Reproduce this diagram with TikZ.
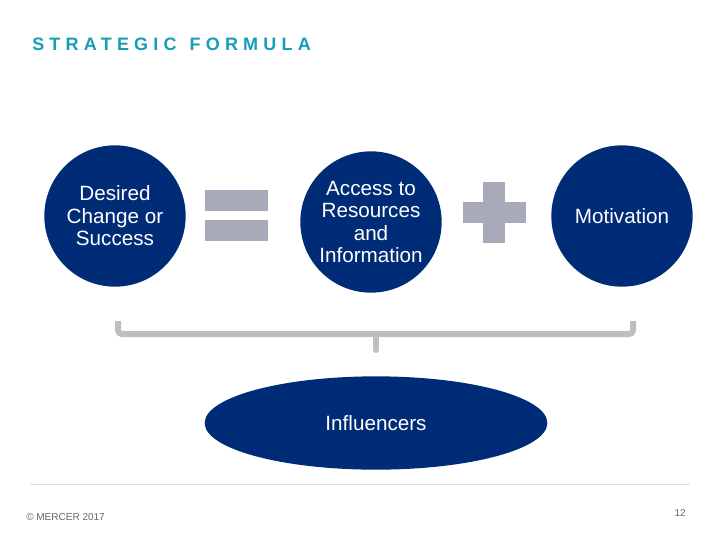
\documentclass[tikz,border=0pt]{standalone}
\usepackage{fontspec}
\setmainfont{Liberation Sans}
\usepackage{xcolor}
\usetikzlibrary{shapes.geometric}

\definecolor{mercernavy}{RGB}{0,44,119}
\definecolor{mercerteal}{RGB}{20,158,184}
\definecolor{signgray}{RGB}{168,170,186}
\definecolor{bracegray}{RGB}{190,190,190}
\definecolor{rulegray}{RGB}{205,226,230}

\tikzset{
  term/.style={circle,fill=mercernavy,text=white,inner sep=0pt,
    minimum size=106pt,align=center,font=\fontsize{15.5}{16.8}\selectfont},
  sign/.style={fill=signgray},
}

\begin{document}
\begin{tikzpicture}[x=0.75pt,y=-0.75pt]
    \useasboundingbox (0,0) rectangle (720,540);

    % Title
    \node[anchor=west,text=mercerteal,inner sep=0pt,
      font=\fontsize{13.5}{14}\selectfont\bfseries\addfontfeature{LetterSpace=29}]
      (title) at (32,44) {STRATEGIC\hspace{2pt} FORMULA};

    % Terms of the formula
    \node[term] (desired) at (115,216) {Desired\\Change or\\Success};
    \node[term] (access) at (371,222) {Access to\\Resources\\and\\Information};
    \node[term] (motivation) at (622,216) {Motivation};

    % Equals sign
    \fill[sign] (205,190) rectangle (268,211);
    \fill[sign] (205,220) rectangle (268,241);

    % Plus sign
    \fill[sign] (483,182) rectangle (505,243);
    \fill[sign] (463,202) rectangle (526,223);

    % Bracket
    \coordinate (bl) at (118,321);
    \coordinate (br) at (633,321);
    \coordinate (tick) at (376,350);
    \draw[bracegray,line width=4.5pt,rounded corners=3pt]
      (bl) -- (118,334) -- (633,334) -- (br);
    \draw[bracegray,line width=4.5pt,line cap=round,rounded corners=3pt]
      (376,334) -- (tick);

    % Influencers
    \node[ellipse,fill=mercernavy,text=white,inner sep=0pt,
      minimum width=257pt,minimum height=70pt,
      font=\fontsize{15.5}{16.8}\selectfont] (influencers) at (376,423) {Influencers};

    % Footer
    \draw[rulegray,line width=0.75pt] (30,484) -- (690,484);
    \node[anchor=west,text=black!60,inner sep=0pt,font=\fontsize{7.5}{8}\selectfont]
      (copyright) at (26,517) {\textcopyright{} MERCER 2017};
    \node[anchor=east,text=black!60,inner sep=0pt,font=\fontsize{7.5}{8}\selectfont]
      (page) at (686,513) {12};
\end{tikzpicture}
\end{document}
